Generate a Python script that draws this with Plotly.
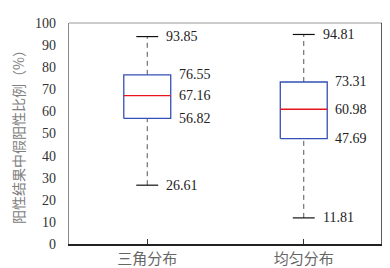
import plotly.graph_objects as go

categories = ["三角分布", "均匀分布"]
whisker_low = [26.61, 11.81]
q1 = [56.82, 47.69]
median = [67.16, 60.98]
q3 = [76.55, 73.31]
whisker_high = [93.85, 94.81]

BOX_HALF = 0.15
CAP_HALF = 0.07
num_font = "Liberation Serif, Times New Roman, serif"
cjk_font = "Noto Sans CJK SC, sans-serif"

fig = go.Figure()
for i, cat in enumerate(categories):
    # whiskers (dashed)
    for a, b in [(whisker_low[i], q1[i]), (q3[i], whisker_high[i])]:
        fig.add_trace(go.Scatter(x=[i, i], y=[a, b], mode="lines",
                                 line=dict(color="#555555", width=1, dash="5px,4px"),
                                 showlegend=False, hoverinfo="skip"))
    # caps
    for v in [whisker_low[i], whisker_high[i]]:
        fig.add_trace(go.Scatter(x=[i - CAP_HALF, i + CAP_HALF], y=[v, v], mode="lines",
                                 line=dict(color="#111111", width=1.2),
                                 showlegend=False, hoverinfo="skip"))
    # box
    fig.add_trace(go.Scatter(
        x=[i - BOX_HALF, i + BOX_HALF, i + BOX_HALF, i - BOX_HALF, i - BOX_HALF],
        y=[q1[i], q1[i], q3[i], q3[i], q1[i]], mode="lines",
        line=dict(color="#3550b5", width=1.3), showlegend=False, hoverinfo="skip"))
    # median
    fig.add_trace(go.Scatter(x=[i - BOX_HALF, i + BOX_HALF], y=[median[i], median[i]],
                             mode="lines", line=dict(color="#e8141c", width=1.3),
                             showlegend=False, hoverinfo="skip"))
    # labels
    for v in [q3[i], median[i], q1[i]]:
        fig.add_annotation(x=i + BOX_HALF, y=v, text=f"{v:.2f}", showarrow=False,
                           xanchor="left", xshift=6, font=dict(family=num_font, size=14, color="#222222"))
    for v in [whisker_low[i], whisker_high[i]]:
        fig.add_annotation(x=i + CAP_HALF, y=v, text=f"{v:.2f}", showarrow=False,
                           xanchor="left", xshift=6, font=dict(family=num_font, size=14, color="#222222"))

# frame: top (gray) and right (dark)
fig.add_shape(type="line", xref="paper", yref="paper", x0=0, x1=1, y0=1, y1=1,
              line=dict(color="#999999", width=1.2))
fig.add_shape(type="line", xref="paper", yref="paper", x0=1, x1=1, y0=0, y1=1,
              line=dict(color="#222222", width=1.5))

fig.update_layout(
    width=390, height=268,
    margin=dict(l=61, r=16, t=8, b=27),
    paper_bgcolor="white", plot_bgcolor="white",
    xaxis=dict(range=[-0.5, 1.5], tickvals=[0, 1], ticktext=categories,
               ticks="inside", ticklen=5, tickcolor="#333333", showgrid=False, zeroline=False,
               showline=True, linecolor="#222222", linewidth=1.5,
               tickfont=dict(family=cjk_font, size=15, color="#666666")),
    yaxis=dict(range=[0, 100], dtick=10, showgrid=False, zeroline=False,
               showline=True, linecolor="#888888", linewidth=1.2, ticks="",
               ticklabelstandoff=9,
               tickfont=dict(family=num_font, size=14, color="#333333"),
               title=dict(text="阳性结果中假阳性比例（%）", standoff=9,
                          font=dict(family=cjk_font, size=14, color="#808080"))),
)

fig.write_html("out.html")
